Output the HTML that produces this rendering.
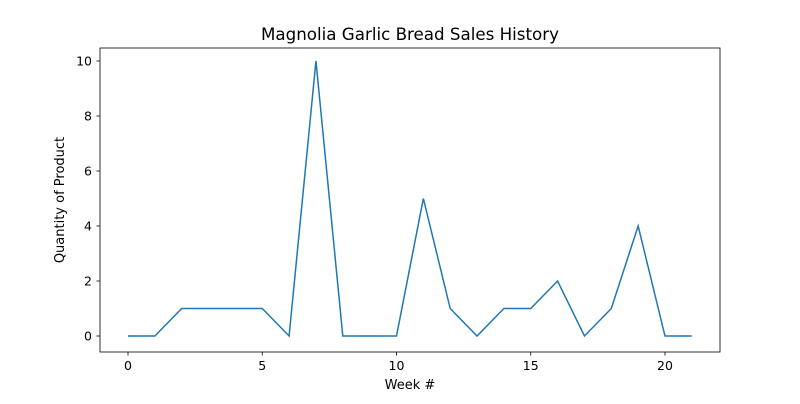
<!DOCTYPE html>
<html><head><meta charset="utf-8"><style>
body{margin:0;background:#fff;font-family:"DejaVu Sans","Liberation Sans",sans-serif;}
</style></head><body>
<svg id="chart" width="800" height="400" xmlns="http://www.w3.org/2000/svg" font-family="DejaVu Sans, Liberation Sans, sans-serif">
<rect width="800" height="400" fill="#fff"/>
<text x="410" y="40" text-anchor="middle" font-size="16.7" fill="#000">Magnolia Garlic Bread Sales History</text>
<text x="410" y="389" text-anchor="middle" font-size="13" fill="#000">Week #</text>
<text x="64" y="200" text-anchor="middle" font-size="13" fill="#000" transform="rotate(-90 64 200)">Quantity of Product</text>
<g id="ticks"></g>
<polyline id="line" fill="none" stroke="#1f77b4" stroke-width="1.5"/>
<rect x="100" y="48" width="620" height="304" fill="none" stroke="#000" stroke-width="0.8"/>
</svg>
<script>
const weeks=[0,1,2,3,4,5,6,7,8,9,10,11,12,13,14,15,16,17,18,19,20,21];
const quantities=[0,0,1,1,1,1,0,10,0,0,0,5,1,0,1,1,2,0,1,4,0,0];
const xTicks=[0,5,10,15,20];
const yTicks=[0,2,4,6,8,10];
const NS="http://www.w3.org/2000/svg";
const xs=v=>128+(v-0)*(665-128)/20;
const ys=v=>336-v*27.5;
const line=document.getElementById('line');
line.setAttribute('points',weeks.map((w,i)=>xs(w)+','+ys(quantities[i])).join(' '));
const g=document.getElementById('ticks');
function mk(tag,attrs,txt){const e=document.createElementNS(NS,tag);for(const k in attrs)e.setAttribute(k,attrs[k]);if(txt!==undefined)e.textContent=txt;g.appendChild(e);return e;}
xTicks.forEach(t=>{
 const l=mk('line',{x1:xs(t),x2:xs(t),y1:352,y2:355.5,stroke:'#000','stroke-width':0.8});
 
 
 const tx=mk('text',{x:xs(t),y:370,'text-anchor':'middle','font-size':12.5},t);
 
 
});
yTicks.forEach(t=>{
 const l=mk('line',{x1:96.5,x2:100,y1:ys(t),y2:ys(t),stroke:'#000','stroke-width':0.8});
 
 
 const tx=mk('text',{x:92,y:ys(t)+4.5,'text-anchor':'end','font-size':12.5},t);
 
 
});
</script>
</body></html>
